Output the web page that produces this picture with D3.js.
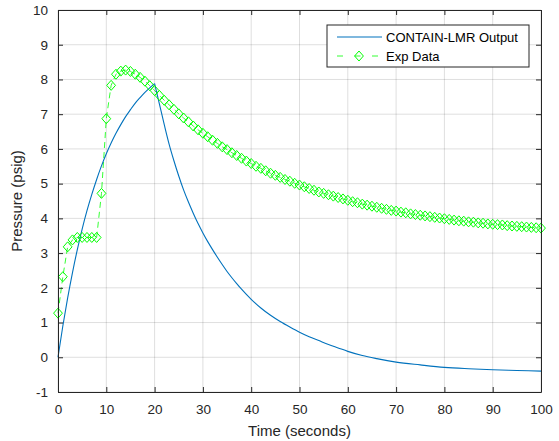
<!DOCTYPE html>
<html lang="en">
<head>
<meta charset="UTF-8">
<title>CONTAIN-LMR vs Exp Data</title>
<script src="https://d3js.org/d3.v7.min.js"></script>
<style>
  body { margin: 0; background: #fff; }
  text { font-family: "Liberation Sans", Arial, Helvetica, sans-serif; }
</style>
</head>
<body>
<div id="chart"></div>
<script>
// model output (time s, pressure psig)
var modelTime = [0,1,2,3,4,5,6,7,8,9,10,11,12,13,14,15,16,17,18,19,20,
    21,22,23,24,25,26,27,28,29,30,31,32,33,34,35,36,37,38,39,40,
    42,44,46,48,50,52,54,56,58,60,63,66,70,75,80,85,90,95,100];
var modelPressure = [0,0.90,1.71,2.44,3.10,3.69,4.22,4.69,5.12,5.51,5.86,6.17,6.45,6.70,6.93,7.13,7.32,7.48,7.63,7.76,7.88,
    7.29,6.70,6.14,5.66,5.22,4.82,4.47,4.15,3.85,3.58,3.33,3.10,2.88,2.67,2.47,2.29,2.12,1.96,1.81,1.67,
    1.42,1.21,1.03,0.87,0.72,0.59,0.48,0.37,0.27,0.17,0.05,-0.04,-0.14,-0.22,-0.29,-0.33,-0.36,-0.38,-0.40];
var peakIndex = 20; // model peaks at t = 20 s

// experiment, one sample per second from 0 to 100
var expPressure = [1.27,2.32,3.18,3.38,3.45,3.45,3.45,3.45,3.45,4.72,6.87,7.83,8.15,8.24,8.27,8.23,8.15,8.06,7.95,7.82,
    7.68,7.54,7.40,7.27,7.14,7.01,6.89,6.78,6.66,6.55,6.45,6.35,6.25,6.16,6.06,5.98,5.89,5.81,5.73,5.65,
    5.58,5.50,5.44,5.37,5.30,5.24,5.18,5.12,5.07,5.01,4.96,4.91,4.86,4.81,4.76,4.72,4.68,4.64,4.60,4.56,
    4.52,4.48,4.45,4.41,4.38,4.35,4.32,4.29,4.26,4.23,4.21,4.18,4.16,4.13,4.11,4.09,4.07,4.05,4.03,4.01,
    3.99,3.97,3.95,3.93,3.92,3.90,3.89,3.87,3.86,3.84,3.83,3.82,3.81,3.79,3.78,3.77,3.76,3.75,3.74,3.73,3.72];
var expTime = expPressure.map(function (d, i) { return i; });

var xTicks = [0,10,20,30,40,50,60,70,80,90,100];
var yTicks = [-1,0,1,2,3,4,5,6,7,8,9,10];
var seriesNames = ["CONTAIN-LMR Output", "Exp Data"];

var W = 559, H = 441;
var margin = { top: 10, right: 18, bottom: 49, left: 58 };
var width = W - margin.left - margin.right;
var height = H - margin.top - margin.bottom;
var axisColor = "#262626";
var blue = "#0072bd", green = "#00ff00";

var svg = d3.select("#chart").append("svg")
    .attr("width", W).attr("height", H)
    .append("g")
    .attr("transform", "translate(" + margin.left + "," + margin.top + ")");

var x = d3.scaleLinear().domain([0, 100]).range([0, width]);
var y = d3.scaleLinear().domain([-1, 10]).range([height, 0]);

// grid
svg.append("g").selectAll("line").data(xTicks).enter().append("line")
    .attr("x1", function (d) { return x(d); }).attr("x2", function (d) { return x(d); })
    .attr("y1", 0).attr("y2", height)
    .attr("stroke", "#000").attr("stroke-opacity", 0.13);
svg.append("g").selectAll("line").data(yTicks).enter().append("line")
    .attr("y1", function (d) { return y(d); }).attr("y2", function (d) { return y(d); })
    .attr("x1", 0).attr("x2", width)
    .attr("stroke", "#000").attr("stroke-opacity", 0.13);

// data
var modelData = modelTime.map(function (t, i) { return [t, modelPressure[i]]; });
var expData = expTime.map(function (t, i) { return [t, expPressure[i]]; });
var line = d3.line().x(function (d) { return x(d[0]); }).y(function (d) { return y(d[1]); });
var smooth = d3.line().curve(d3.curveMonotoneX)
    .x(function (d) { return x(d[0]); }).y(function (d) { return y(d[1]); });

svg.append("path").datum(expData)
    .attr("d", line).attr("fill", "none")
    .attr("stroke", green).attr("stroke-width", 0.8)
    .attr("stroke-dasharray", "6,4");

// rise and fall drawn separately so the peak stays sharp
[modelData.slice(0, peakIndex + 1), modelData.slice(peakIndex)].forEach(function (seg) {
    svg.append("path").datum(seg)
        .attr("d", smooth).attr("fill", "none")
        .attr("stroke", blue).attr("stroke-width", 1.1);
});

var diamond = "M0,-5L4.4,0L0,5L-4.4,0Z";
svg.append("g").selectAll("path").data(expData).enter().append("path")
    .attr("transform", function (d) { return "translate(" + x(d[0]) + "," + y(d[1]) + ")"; })
    .attr("d", diamond)
    .attr("fill", "none").attr("stroke", green).attr("stroke-width", 1);

// axes (box with inward ticks)
var fmt = function (d) { return String(d); };
svg.append("g").attr("transform", "translate(0," + height + ")")
    .call(d3.axisBottom(x).tickValues(xTicks).tickFormat(fmt).tickSizeInner(-5).tickSizeOuter(0).tickPadding(12));
svg.append("g")
    .call(d3.axisLeft(y).tickValues(yTicks).tickFormat(fmt).tickSizeInner(-5).tickSizeOuter(0).tickPadding(10));
svg.append("g")
    .call(d3.axisTop(x).tickValues(xTicks).tickSizeInner(-5).tickSizeOuter(0).tickFormat(""));
svg.append("g").attr("transform", "translate(" + width + ",0)")
    .call(d3.axisRight(y).tickValues(yTicks).tickSizeInner(-5).tickSizeOuter(0).tickFormat(""));

svg.selectAll(".domain").attr("stroke", axisColor);
svg.selectAll(".tick line").attr("stroke", axisColor);
svg.selectAll(".tick text")
    .attr("fill", axisColor)
    .style("font-size", "13.5px")
    .style("font-family", "'Liberation Sans', Arial, sans-serif");

svg.append("text")
    .attr("x", width / 2).attr("y", height + 44)
    .attr("text-anchor", "middle").attr("fill", axisColor)
    .style("font-size", "15px")
    .text("Time (seconds)");

svg.append("text")
    .attr("transform", "rotate(-90)")
    .attr("x", -height / 2).attr("y", -36)
    .attr("text-anchor", "middle").attr("fill", axisColor)
    .style("font-size", "15px")
    .text("Pressure (psig)");

// legend
var lg = svg.append("g").attr("transform", "translate(" + (327 - margin.left) + "," + (25 - margin.top) + ")");
lg.append("rect").attr("width", 202).attr("height", 42)
    .attr("fill", "#fff").attr("stroke", axisColor).attr("stroke-width", 1);
lg.append("line").attr("x1", 10).attr("x2", 55).attr("y1", 12).attr("y2", 12)
    .attr("stroke", blue).attr("stroke-width", 1.1);
lg.append("line").attr("x1", 10).attr("x2", 55).attr("y1", 31).attr("y2", 31)
    .attr("stroke", green).attr("stroke-width", 0.8).attr("stroke-dasharray", "6,11.5");
lg.append("path").attr("transform", "translate(32,31)").attr("d", diamond)
    .attr("fill", "none").attr("stroke", green).attr("stroke-width", 1);
lg.selectAll("text.lbl").data(seriesNames).enter().append("text")
    .attr("class", "lbl")
    .attr("x", 59).attr("y", function (d, i) { return 16.5 + i * 19; })
    .attr("fill", "#000")
    .style("font-size", "13px")
    .text(function (d) { return d; });
</script>
</body>
</html>
